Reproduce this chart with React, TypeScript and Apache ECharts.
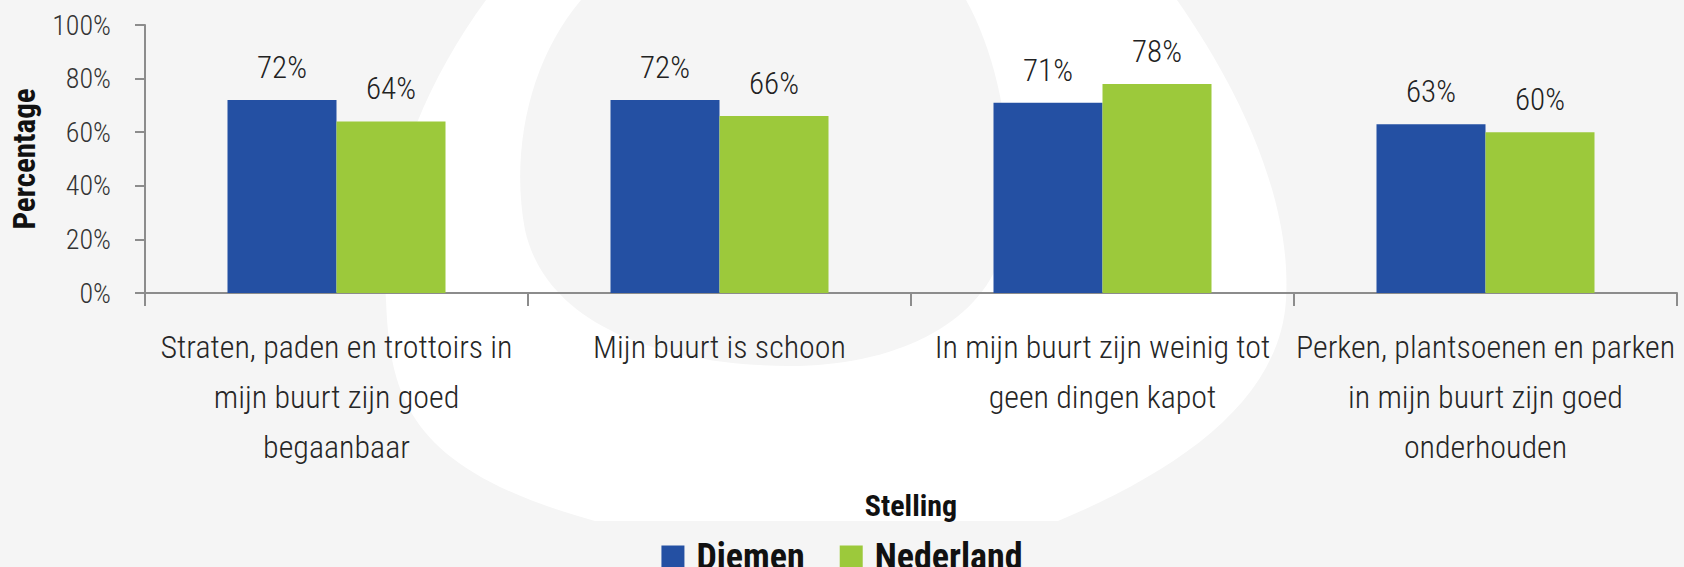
import React, { useEffect, useRef } from "react";
import * as echarts from "echarts";

const categories = [
  "Straten, paden en trottoirs in\nmijn buurt zijn goed\nbegaanbaar",
  "Mijn buurt is schoon",
  "In mijn buurt zijn weinig tot\ngeen dingen kapot",
  "Perken, plantsoenen en parken\nin mijn buurt zijn goed\nonderhouden",
];
const diemen = [72, 72, 71, 63];
const nederland = [64, 66, 78, 60];
const seriesNames = ["Diemen", "Nederland"];
const xTitle = "Stelling";
const yTitle = "Percentage";

const NARROW = "'Roboto Condensed', 'Liberation Sans', sans-serif";

const OUTER_D =
  "M 486 0 C 420 90 378 200 386 300 C 390 400 410 470 595 521 L 1058 521 C 1180 470 1280 400 1286 300 C 1292 200 1240 90 1177 0 Z";
const INNER_D =
  "M 581 0 C 530 60 510 150 525 230 C 545 320 650 365 790 366 C 900 366 990 320 1005 240 C 1018 160 1000 60 966 0 Z";

let registered = false;
function registerShapes() {
  if (registered) return;
  registered = true;
  echarts.graphic.registerShape("wmOuter", echarts.graphic.extendPath(OUTER_D, {}) as any);
  echarts.graphic.registerShape("wmInner", echarts.graphic.extendPath(INNER_D, {}) as any);
}

export default function App() {
  const ref = useRef<HTMLDivElement>(null);
  useEffect(() => {
    if (!ref.current) return;
    registerShapes();
    const chart = echarts.init(ref.current, null, { renderer: "svg" });
    const labelStyle = {
      show: true,
      position: "top",
      distance: 17,
      formatter: "{c}%",
      fontFamily: NARROW,
      fontWeight: 300,
      fontSize: 31,
      color: "#222",
    };
    chart.setOption({
      animation: false,
      backgroundColor: "#f5f5f5",
      graphic: [
        { type: "wmOuter", x: 0, y: 0, scaleX: 1, scaleY: 1, z: -10, silent: true, style: { fill: "#ffffff" } },
        { type: "wmInner", x: 0, y: 0, scaleX: 1, scaleY: 1, z: -9, silent: true, style: { fill: "#f5f5f5" } },
      ],
      grid: { left: 145, right: 7, top: 25, bottom: 274, containLabel: false, outerBoundsMode: "none" },
      legend: {
        data: seriesNames,
        top: 534,
        left: "center",
        itemWidth: 23,
        itemHeight: 23,
        itemGap: 35,
        icon: "rect",
        textStyle: {
          fontFamily: NARROW,
          fontWeight: "bold",
          fontSize: 36,
          color: "#111",
          padding: [0, 0, 0, 7],
        },
      },
      xAxis: {
        type: "category",
        data: categories,
        name: xTitle,
        nameLocation: "middle",
        nameGap: 197,
        nameTextStyle: { fontFamily: NARROW, fontWeight: "bold", fontSize: 30, color: "#111" },
        axisLine: { lineStyle: { color: "#8c8c8c", width: 2 } },
        axisTick: { show: true, length: 13, lineStyle: { color: "#8c8c8c", width: 2 } },
        axisLabel: {
          interval: 0,
          margin: 29,
          fontFamily: NARROW,
          fontWeight: 300,
          fontSize: 32,
          lineHeight: 50,
          color: "#262626",
          align: "center",
        },
      },
      yAxis: {
        type: "value",
        min: 0,
        max: 100,
        interval: 20,
        name: yTitle,
        nameLocation: "middle",
        nameGap: 105,
        nameTextStyle: { fontFamily: NARROW, fontWeight: "bold", fontSize: 31, color: "#111" },
        axisLine: { show: true, lineStyle: { color: "#8c8c8c", width: 2 } },
        axisTick: { show: true, length: 10, lineStyle: { color: "#8c8c8c", width: 2 } },
        splitLine: { show: false },
        axisLabel: {
          formatter: "{value}%",
          margin: 34,
          fontFamily: NARROW,
          fontWeight: 300,
          fontSize: 28,
          color: "#333",
        },
      },
      series: [
        {
          name: seriesNames[0],
          type: "bar",
          data: diemen,
          barWidth: 109,
          barGap: "0%",
          itemStyle: { color: "#2450a3" },
          label: labelStyle,
        },
        {
          name: seriesNames[1],
          type: "bar",
          data: nederland,
          barWidth: 109,
          barGap: "0%",
          itemStyle: { color: "#9cc93b" },
          label: labelStyle,
        },
      ],
    });
    return () => chart.dispose();
  }, []);
  return (
    <div
      ref={ref}
      style={{ position: "fixed", left: 0, top: 0, width: 1684, height: 567 }}
    />
  );
}
